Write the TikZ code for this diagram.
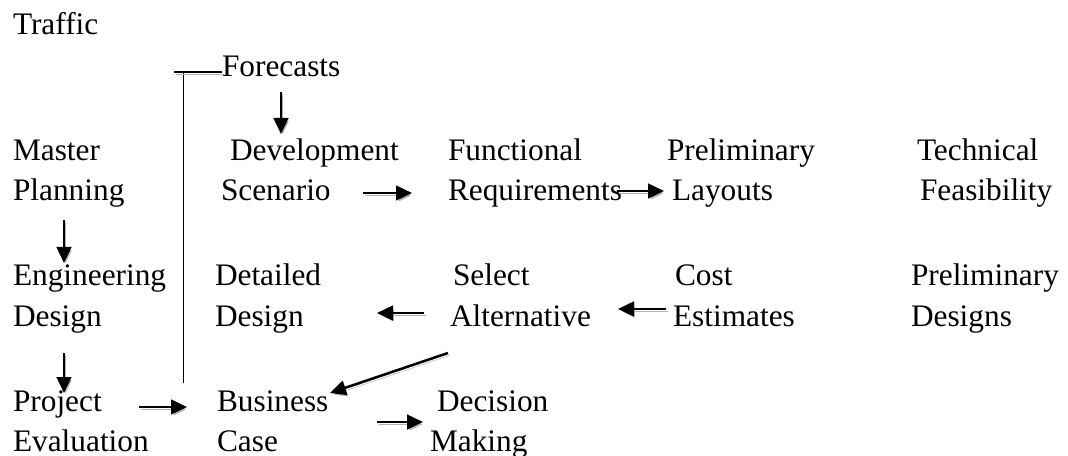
\documentclass[tikz,border=0pt]{standalone}
\usepackage{fontspec}
\setmainfont{Liberation Serif}
\usetikzlibrary{arrows.meta}
\begin{document}
\begin{tikzpicture}[x=0.75pt,y=-0.75pt,
  lbl/.style={anchor=base west,inner sep=0pt,outer sep=0pt,font=\fontsize{23.5}{28}\selectfont},
  shadowed/.style={preaction={draw=black!30,transform canvas={shift={(1.2pt,-1.8pt)}}}},
  arr/.style={-{Triangle[length=12pt,width=11pt]},line width=1.9pt,shadowed},
  thinline/.style={line width=0.8pt}]
\useasboundingbox (0,0) rectangle (1068,456);
% labels
\node[lbl] (traffic) at (13,35) {Traffic};
\node[lbl] (forecasts) at (222,77) {Forecasts};
\node[lbl] (master) at (13,161) {Master};
\node[lbl] (planning) at (13,201) {Planning};
\node[lbl] (devel) at (230,161) {Development};
\node[lbl] (scen) at (221,201) {Scenario};
\node[lbl] (func) at (448,161) {Functional};
\node[lbl] (req) at (448,201) {Requirements};
\node[lbl] (prelim) at (667,161) {Preliminary};
\node[lbl] (layouts) at (672,201) {Layouts};
\node[lbl] (tech) at (917,161) {Technical};
\node[lbl] (feas) at (920,201) {Feasibility};
\node[lbl] (eng) at (13,286) {Engineering};
\node[lbl] (edesign) at (13,326) {Design};
\node[lbl] (detailed) at (215,286) {Detailed};
\node[lbl] (ddesign) at (215,326) {Design};
\node[lbl] (select) at (453,286) {Select};
\node[lbl] (alt) at (450,326) {Alternative};
\node[lbl] (cost) at (675,286) {Cost};
\node[lbl] (est) at (673,326) {Estimates};
\node[lbl] (pdes) at (911,286) {Preliminary};
\node[lbl] (designs) at (911,326) {Designs};
\node[lbl] (project) at (13,411) {Project};
\node[lbl] (eval) at (13,451) {Evaluation};
\node[lbl] (business) at (217,411) {Business};
\node[lbl] (case) at (217,451) {Case};
\node[lbl] (decision) at (437,411) {Decision};
\node[lbl] (making) at (430,451) {Making};
% connector end points
\coordinate (fcA) at (281,92);   \coordinate (fcB) at (281,134);
\coordinate (scA) at (363,193);  \coordinate (scB) at (412,193);
\coordinate (rqA) at (617,191);  \coordinate (rqB) at (664,191);
\coordinate (mpA) at (64,220);   \coordinate (mpB) at (64,263);
\coordinate (alA) at (424,313);  \coordinate (alB) at (377,313);
\coordinate (esA) at (666,309);  \coordinate (esB) at (618,309);
\coordinate (sbA) at (448,353);  \coordinate (sbB) at (330,393);
\coordinate (edA) at (64,353);   \coordinate (edB) at (64,393);
\coordinate (peA) at (139,407);  \coordinate (peB) at (187,407);
\coordinate (bcA) at (377,422);  \coordinate (bcB) at (423,422);
\coordinate (vTop) at (183.5,72); \coordinate (vBot) at (183.5,383);
\coordinate (hL) at (174,72);    \coordinate (hR) at (222,72);
% connectors
\draw[arr] (fcA) -- (fcB);
\draw[arr] (scA) -- (scB);
\draw[arr] (rqA) -- (rqB);
\draw[arr] (mpA) -- (mpB);
\draw[arr] (alA) -- (alB);
\draw[arr] (esA) -- (esB);
\draw[arr] (sbA) -- (sbB);
\draw[arr] (edA) -- (edB);
\draw[arr] (peA) -- (peB);
\draw[arr] (bcA) -- (bcB);
\draw[thinline] (vTop) -- (vBot);
\draw[thinline,shadowed] (hL) -- (hR);
\end{tikzpicture}
\end{document}
